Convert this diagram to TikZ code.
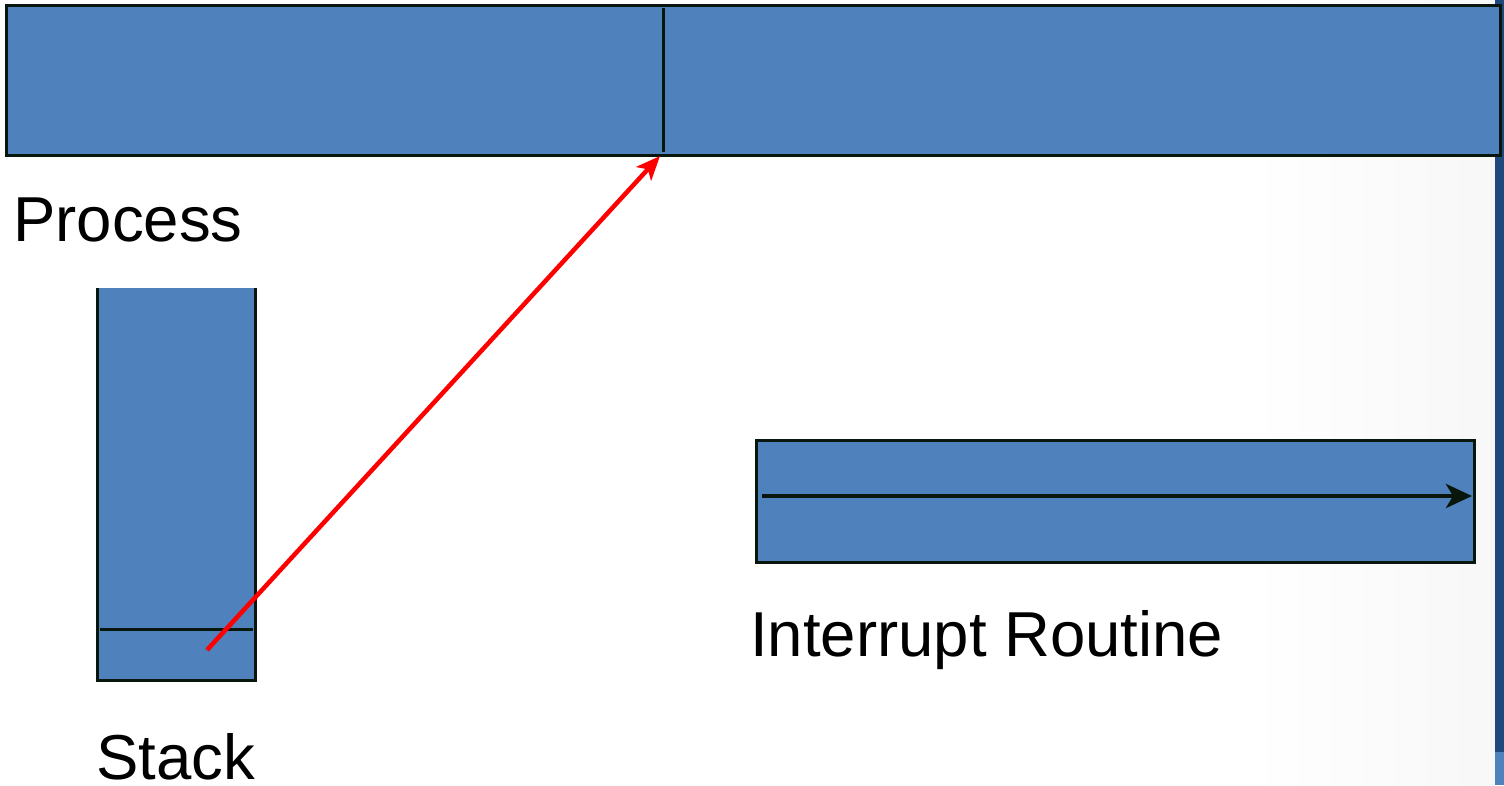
\documentclass[tikz,border=0pt]{standalone}
\usepackage{fontspec}
\setmainfont{Liberation Sans}
\usetikzlibrary{arrows.meta}
\definecolor{boxblue}{RGB}{79,129,189}
\definecolor{edge}{RGB}{8,22,12}
\definecolor{stripdark}{RGB}{31,73,125}
\tikzset{
  blockfill/.style={fill=boxblue},
  blockedge/.style={draw=edge, line width=3pt},
  label/.style={anchor=base west, inner sep=0pt, font=\fontsize{63.5}{76}\selectfont},
  redarrow/.style={draw=red, line width=4.5pt, -{Stealth[length=24pt,width=20pt,inset=6pt]}},
  blackarrow/.style={draw=edge, line width=4.5pt, -{Stealth[length=26pt,width=24pt,inset=7pt]}}
}
\begin{document}
\begin{tikzpicture}[x=1pt,y=-1pt]
\useasboundingbox (0,0) rectangle (1504,785);
\fill[white] (0,0) rectangle (1504,785);
\shade[left color=white, right color=black!3] (1250,0) rectangle (1495,785);
% right strip
\fill[stripdark] (1495,0) rectangle (1504,752);
\fill[boxblue] (1495,752) rectangle (1504,785);
% process bar
\node[blockfill, blockedge, minimum width=1494pt, minimum height=150pt, inner sep=0pt, outer sep=0pt, anchor=north west] (proc) at (6,5) {};
\coordinate (divtop) at (663,8);
\coordinate (divbot) at (663,152);
\draw[edge, line width=3pt] (divtop) -- (divbot);
\node[label] (proclbl) at (13,241) {Process};
% stack
\fill[boxblue] (97,288) rectangle (255,680);
\draw[blockedge] (97,288) -- (97,680) -- (255,680) -- (255,288);
\coordinate (slotl) at (100,629);
\coordinate (slotr) at (253,629);
\draw[edge, line width=3pt] (slotl) -- (slotr);
\node[label] (stacklbl) at (96,779) {Stack};
% interrupt routine
\node[blockfill, blockedge, minimum width=718pt, minimum height=122pt, inner sep=0pt, outer sep=0pt, anchor=north west] (intr) at (756,440) {};
\coordinate (irs) at (762,496);
\coordinate (ire) at (1472,496);
\draw[blackarrow] (irs) -- (ire);
\node[label] (intrlbl) at (750,656) {Interrupt Routine};
% red arrow
\coordinate (ret) at (207,650);
\coordinate (tip) at (660,156);
\draw[redarrow] (ret) -- (tip);
\end{tikzpicture}
\end{document}
